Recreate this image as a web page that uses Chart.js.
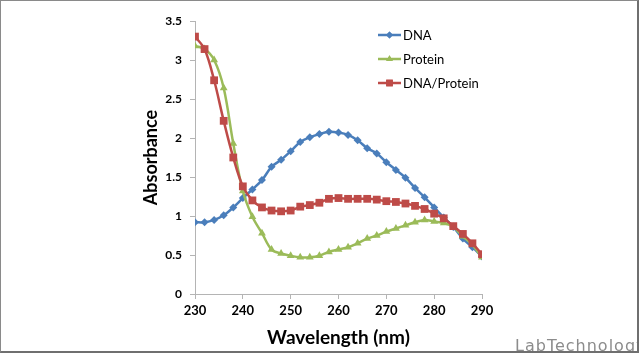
<!DOCTYPE html>
<html>
<head>
<meta charset="utf-8">
<script src="https://cdn.jsdelivr.net/npm/chart.js@4/dist/chart.umd.min.js"></script>
<style>
  html, body { margin: 0; padding: 0; background: #fff; }
  #wrap {
    position: relative; width: 639px; height: 353px; box-sizing: border-box;
    border-top: 1px solid #8a8a8a; border-left: 1px solid #8a8a8a;
    border-right: 2px solid #6f6f6f; border-bottom: 2px solid #6f6f6f;
    overflow: hidden;
  }
  #chart { position: absolute; left: -1px; top: -1px; }
  #mark {
    position: absolute; left: 514px; top: 335px; line-height: 16px;
    font: 16px "DejaVu Sans", sans-serif; letter-spacing: 1px; color: #8c8c8c; white-space: nowrap;
  }
</style>
</head>
<body>
<div id="wrap">
  <canvas id="chart" width="639" height="353"></canvas>
  <div id="mark">LabTechnology</div>
</div>
<script>
const wavelengths = [230, 232, 234, 236, 238, 240, 242, 244, 246, 248, 250, 252, 254, 256, 258, 260,
  262, 264, 266, 268, 270, 272, 274, 276, 278, 280, 282, 284, 286, 288, 290];
const dna = [0.92, 0.92, 0.95, 1.01, 1.11, 1.23, 1.34, 1.46, 1.63, 1.72, 1.83, 1.95, 2.01, 2.05, 2.08, 2.07,
  2.04, 1.97, 1.87, 1.80, 1.69, 1.59, 1.49, 1.36, 1.24, 1.11, 0.98, 0.86, 0.71, 0.60, 0.48];
const protein = [3.18, 3.14, 3.00, 2.64, 1.93, 1.32, 0.99, 0.78, 0.57, 0.52, 0.49, 0.47, 0.47, 0.49, 0.54, 0.57,
  0.60, 0.65, 0.71, 0.75, 0.80, 0.84, 0.88, 0.92, 0.95, 0.93, 0.91, 0.86, 0.74, 0.63, 0.47];
const dnaProtein = [3.30, 3.14, 2.74, 2.22, 1.75, 1.38, 1.20, 1.11, 1.07, 1.06, 1.07, 1.12, 1.14, 1.17, 1.22, 1.23,
  1.22, 1.22, 1.22, 1.21, 1.19, 1.18, 1.16, 1.13, 1.09, 1.03, 0.97, 0.87, 0.77, 0.65, 0.51];
const xTicks = [230, 240, 250, 260, 270, 280, 290];
const yTicks = [0, 0.5, 1, 1.5, 2, 2.5, 3, 3.5];

const series = [
  { label: 'DNA', data: dna, color: '#4a7ebb', style: 'rectRot', r: 4, order: 3 },
  { label: 'Protein', data: protein, color: '#9bbb59', style: 'triangle', r: 4.5, order: 2 },
  { label: 'DNA/Protein', data: dnaProtein, color: '#be4b48', style: 'rect', r: 5.5, order: 1 }
];

const font = '"Lato", "Open Sans", sans-serif';
const axisColor = '#b4b4b4';

// legend drawn inside the plot, like the original
const legendPlugin = {
  id: 'insideLegend',
  afterDraw(c) {
    const ctx = c.ctx;
    const x0 = 378, x1 = 401;
    series.forEach((s, i) => {
      const y = 35 + i * 24;
      ctx.save();
      ctx.strokeStyle = s.color;
      ctx.lineWidth = 2.5;
      ctx.beginPath();
      ctx.moveTo(x0, y);
      ctx.lineTo(x1, y);
      ctx.stroke();
      ctx.fillStyle = s.color;
      Chart.helpers.drawPoint(ctx, { pointStyle: s.style, radius: s.r * 0.85, borderWidth: 0 }, (x0 + x1) / 2, y);
      ctx.fill();
      ctx.fillStyle = '#000';
      ctx.font = '13px ' + font;
      ctx.textBaseline = 'middle';
      ctx.fillText(s.label, x1 + 2, y + 1);
      ctx.restore();
    });
  }
};

new Chart(document.getElementById('chart'), {
  type: 'line',
  data: {
    labels: wavelengths,
    datasets: series.map(s => ({
      label: s.label,
      data: s.data.map((v, i) => ({ x: wavelengths[i], y: v })),
      borderColor: s.color,
      backgroundColor: s.color,
      pointBackgroundColor: s.color,
      pointBorderColor: s.color,
      pointBorderWidth: 0,
      pointStyle: s.style,
      pointRadius: s.r,
      borderWidth: 2.5,
      tension: 0.35,
      order: s.order
    }))
  },
  options: {
    responsive: false,
    animation: false,
    layout: { padding: { left: 136, right: 157, top: 21, bottom: 0 } },
    plugins: { legend: { display: false }, tooltip: { enabled: false } },
    scales: {
      x: {
        type: 'linear', min: 230, max: 290,
        afterBuildTicks: s => { s.ticks = xTicks.map(v => ({ value: v })); },
        afterFit: s => { s.height = 59; },
        grid: { drawOnChartArea: false, drawTicks: true, tickLength: 5, color: axisColor },
        border: { color: axisColor, width: 1 },
        ticks: { color: '#000', font: { family: font, size: 13, weight: 'bold' }, padding: 4, maxRotation: 0 },
        title: { display: true, text: 'Wavelength (nm)', color: '#000', font: { family: font, size: 19, weight: 'bold' }, padding: { top: 2 } }
      },
      y: {
        min: 0, max: 3.5,
        afterBuildTicks: s => { s.ticks = yTicks.map(v => ({ value: v })); },
        afterFit: s => { s.width = 59; },
        grid: { drawOnChartArea: false, drawTicks: true, tickLength: 5, color: axisColor },
        border: { color: axisColor, width: 1 },
        ticks: { color: '#000', font: { family: font, size: 12, weight: 'bold' }, padding: 8, callback: v => String(v) },
        title: { display: true, text: 'Absorbance', color: '#000', font: { family: font, size: 18, weight: 'bold' } }
      }
    }
  },
  plugins: [legendPlugin]
});
</script>
</body>
</html>
